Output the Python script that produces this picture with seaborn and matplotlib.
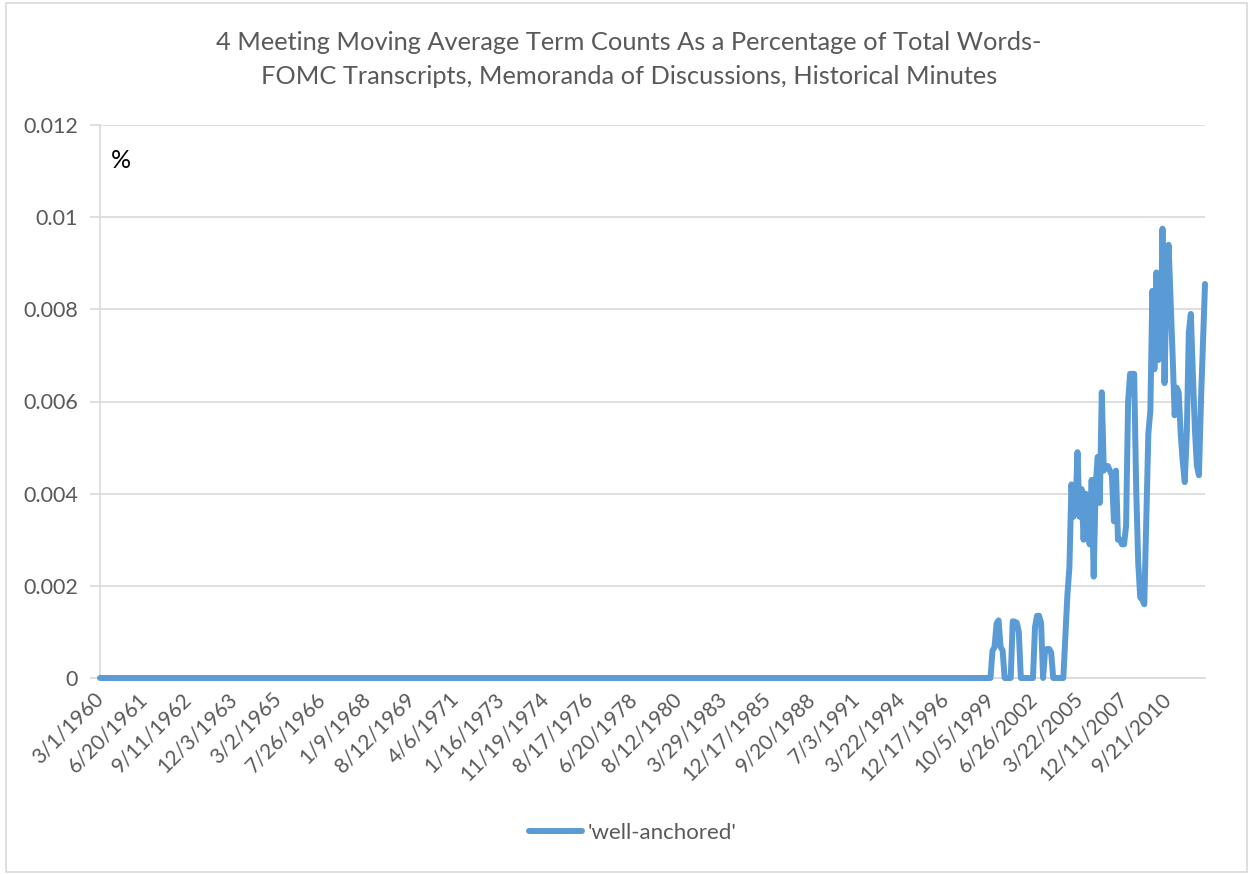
import numpy as np
import pandas as pd
import seaborn as sns
import matplotlib.pyplot as plt
from matplotlib.patches import Rectangle

# one point per FOMC meeting, 3/1/1960 .. 2012; zero until late 1999
n_meetings = 547
first_nonzero = 440
tail_values = [
    0, 0.00059, 0.00067, 0.00118, 0.00125, 0.00067, 0.0006, 0, 0, 0,
    0, 0.00123, 0.00122, 0.0012, 0.001, 0, 0, 0, 0, 0,
    0, 0, 0.0011, 0.00135, 0.00135, 0.0012, 0, 0.0006, 0.00063, 0.00063,
    0.00055, 0, 0, 0, 0, 0, 0, 0.0009, 0.0018, 0.0024,
    0.0042, 0.0035, 0.0037, 0.0049, 0.0035, 0.0041, 0.003, 0.004, 0.0034, 0.0029,
    0.0043, 0.0022, 0.0042, 0.0048, 0.0038, 0.0062, 0.0045, 0.0046, 0.0046, 0.0045,
    0.0044, 0.0034, 0.0045, 0.003, 0.003, 0.0029, 0.0029, 0.0033, 0.006, 0.0066,
    0.0066, 0.0066, 0.0041, 0.0025, 0.00175, 0.0017, 0.0016, 0.0035, 0.0053, 0.0058,
    0.0084, 0.0067, 0.0088, 0.0069, 0.0071, 0.00975, 0.0064, 0.0086, 0.0094, 0.0082,
    0.007, 0.0057, 0.0063, 0.0062, 0.0053, 0.0047, 0.00425, 0.0053, 0.0075, 0.0079,
    0.0066, 0.0054, 0.0046, 0.0044, 0.006, 0.0073, 0.00855,
]
values = [0.0] * first_nonzero + tail_values

label_step = 22
tick_labels = ["3/1/1960", "6/20/1961", "9/11/1962", "12/3/1963", "3/2/1965",
               "7/26/1966", "1/9/1968", "8/12/1969", "4/6/1971", "1/16/1973",
               "11/19/1974", "8/17/1976", "6/20/1978", "8/12/1980", "3/29/1983",
               "12/17/1985", "9/20/1988", "7/3/1991", "3/22/1994", "12/17/1996",
               "10/5/1999", "6/26/2002", "3/22/2005", "12/11/2007", "9/21/2010"]

df = pd.DataFrame({"meeting": np.arange(len(values)), "pct": values})

sns.set_style("white")
plt.rcParams['font.family'] = ['Lato', 'DejaVu Sans']

fig = plt.figure(figsize=(12.52, 8.74), dpi=100)
ax = fig.add_axes([100 / 1252, 1 - 678 / 874, 1105 / 1252, 553 / 874])

blue = "#5b9bd5"
grey = "#d9d9d9"
txt = "#595959"

sns.lineplot(data=df, x="meeting", y="pct", ax=ax, color=blue, linewidth=4.3,
             solid_joinstyle="round", solid_capstyle="round",
             label="'well-anchored'", clip_on=False, zorder=3)

ax.set_xlim(0, len(values) - 1)
ax.set_ylim(0, 0.012)
ax.set_yticks([0, 0.002, 0.004, 0.006, 0.008, 0.01, 0.012])
ax.set_yticklabels(["0", "0.002", "0.004", "0.006", "0.008", "0.01", "0.012"])
ax.yaxis.grid(True, color=grey, linewidth=1.2)
ax.set_axisbelow(True)

ax.set_xticks([i * label_step for i in range(len(tick_labels))])
ax.set_xticklabels(tick_labels, rotation=45, rotation_mode="anchor",
                   ha="right", va="center")
ax.set_xticks(np.arange(0, len(values), 10), minor=True)
ax.xaxis.remove_overlapping_locs = False
ax.tick_params(axis="x", which="major", length=0, pad=13, labelsize=15, labelcolor=txt)
ax.tick_params(axis="x", which="minor", length=6, width=1.2, color=grey, direction="out")
ax.tick_params(axis="y", which="major", length=7, width=1.2, color=grey, pad=9,
               labelsize=15.5, labelcolor=txt, left=True)
ax.set_xlabel("")
ax.set_ylabel("")

for side in ["top", "right"]:
    ax.spines[side].set_visible(False)
for side in ["left", "bottom"]:
    ax.spines[side].set_color(grey)
    ax.spines[side].set_linewidth(1.2)

ax.text(111 / 1252, 1 - 160 / 874, "%", transform=fig.transFigure, fontsize=18,
        color="black", va="center", ha="left")

fig.text(629 / 1252, 1 - 43 / 874,
         "4 Meeting Moving Average Term Counts As a Percentage of Total Words-",
         ha="center", va="center", fontsize=18.3, color=txt)
fig.text(629 / 1252, 1 - 76 / 874,
         "FOMC Transcripts, Memoranda of Discussions, Historical Minutes",
         ha="center", va="center", fontsize=18.3, color=txt)

leg = ax.legend(loc="center", bbox_to_anchor=(633 / 1252, 1 - 833 / 874),
                bbox_transform=fig.transFigure, frameon=False, fontsize=16,
                handlelength=2.4, handletextpad=0.25)
for t in leg.get_texts():
    t.set_color(txt)

fig.patches.append(Rectangle((6 / 1252, 2 / 874), 1241 / 1252, 869 / 874,
                             transform=fig.transFigure, fill=False,
                             edgecolor=grey, linewidth=1.2))

fig.savefig("out.png", dpi=100)
